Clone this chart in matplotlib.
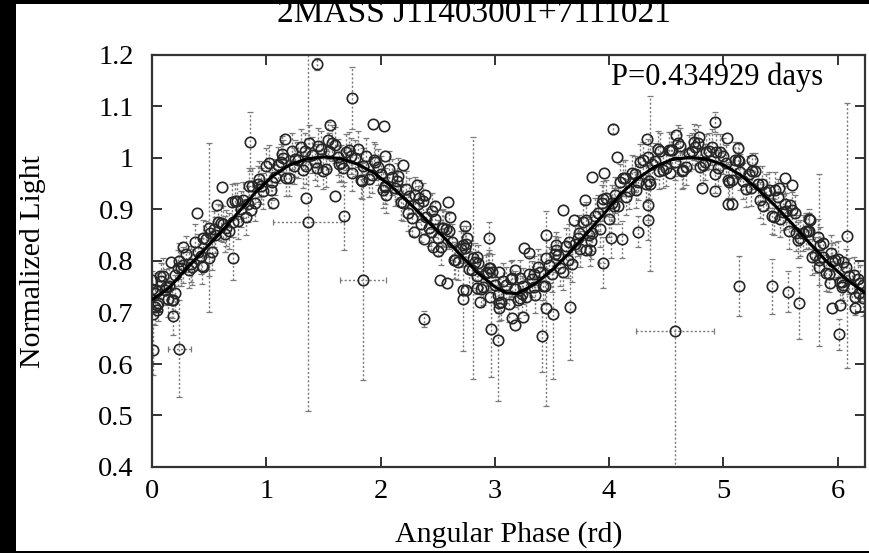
import numpy as np
import matplotlib.pyplot as plt
from matplotlib.patches import Rectangle

# Light curve model
curve_x = [0.00, 0.15, 0.30, 0.45, 0.60, 0.75, 0.90, 1.05, 1.20, 1.35, 1.50, 1.65, 1.80,
           1.95, 2.10, 2.25, 2.40, 2.55, 2.70, 2.85, 3.00, 3.10, 3.20, 3.35, 3.50, 3.65,
           3.80, 3.95, 4.10, 4.25, 4.40, 4.55, 4.70, 4.85, 5.00, 5.15, 5.30, 5.45, 5.60,
           5.75, 5.90, 6.05, 6.20, 6.24]
curve_y = [0.725, 0.748, 0.785, 0.820, 0.855, 0.893, 0.932, 0.964, 0.986, 0.998, 1.002, 0.999, 0.988,
           0.970, 0.944, 0.913, 0.880, 0.847, 0.812, 0.777, 0.750, 0.738, 0.737, 0.755, 0.782, 0.815,
           0.852, 0.890, 0.930, 0.960, 0.983, 0.997, 1.001, 0.998, 0.987, 0.967, 0.940, 0.908, 0.873,
           0.836, 0.800, 0.770, 0.744, 0.738]

# Dense band of measurements
band_a_x = [0.00, 0.05, 0.10, 0.15, 0.20, 0.25, 0.30, 0.35, 0.40, 0.45, 0.50, 0.55, 0.60, 0.65,
            0.70, 0.75, 0.80, 0.85, 0.90, 0.95, 1.00, 1.05, 1.10, 1.15, 1.20, 1.25, 1.30, 1.35,
            1.40, 1.45, 1.50, 1.55, 1.60, 1.65, 1.70, 1.75, 1.80, 1.85, 1.90, 1.95, 2.00, 2.05,
            2.10, 2.15, 2.20, 2.25, 2.30, 2.35, 2.40, 2.45, 2.50, 2.55, 2.60, 2.65, 2.70, 2.75,
            2.80, 2.85, 2.90, 2.95, 3.00, 3.05, 3.10, 3.15, 3.20, 3.25, 3.30, 3.35, 3.40, 3.45,
            3.50, 3.55, 3.60, 3.65, 3.70, 3.75, 3.80, 3.85, 3.90, 3.95, 4.00, 4.05, 4.10, 4.15,
            4.20, 4.25, 4.30, 4.35, 4.40, 4.45, 4.50, 4.55, 4.60, 4.65, 4.70, 4.75, 4.80, 4.85,
            4.90, 4.95, 5.00, 5.05, 5.10, 5.15, 5.20, 5.25, 5.30, 5.35, 5.40, 5.45, 5.50, 5.55,
            5.60, 5.65, 5.70, 5.75, 5.80, 5.85, 5.90, 5.95, 6.00, 6.05, 6.10, 6.15, 6.20]
band_a_y = [0.745, 0.719, 0.771, 0.752, 0.738, 0.787, 0.813, 0.789, 0.818, 0.844, 0.806, 0.850, 0.873, 0.864,
            0.915, 0.878, 0.918, 0.945, 0.913, 0.945, 0.984, 0.954, 0.987, 1.000, 0.962, 0.999, 1.021, 0.984,
            1.005, 1.023, 0.974, 1.014, 1.025, 0.990, 1.012, 0.971, 1.017, 0.985, 0.959, 0.993, 0.969, 0.928,
            0.963, 0.965, 0.912, 0.927, 0.928, 0.871, 0.885, 0.897, 0.844, 0.865, 0.859, 0.801, 0.823, 0.833,
            0.783, 0.797, 0.750, 0.786, 0.754, 0.720, 0.754, 0.767, 0.725, 0.752, 0.774, 0.734, 0.778, 0.805,
            0.774, 0.812, 0.779, 0.837, 0.833, 0.824, 0.880, 0.855, 0.894, 0.921, 0.881, 0.929, 0.954, 0.925,
            0.970, 0.954, 0.997, 0.956, 0.994, 1.014, 0.980, 1.015, 1.029, 0.976, 1.009, 1.021, 0.982, 1.012,
            1.022, 0.980, 1.003, 0.954, 0.996, 0.972, 0.939, 0.974, 0.950, 0.906, 0.937, 0.938, 0.882, 0.897,
            0.899, 0.841, 0.855, 0.859, 0.812, 0.831, 0.776, 0.800, 0.803, 0.754, 0.770, 0.731, 0.757]

band_b_x = [0.025, 0.075, 0.125, 0.175, 0.225, 0.275, 0.325, 0.375, 0.425, 0.475, 0.525, 0.575, 0.625,
            0.675, 0.725, 0.775, 0.825, 0.875, 0.925, 0.975, 1.025, 1.075, 1.125, 1.175, 1.225, 1.275,
            1.325, 1.375, 1.425, 1.475, 1.525, 1.575, 1.625, 1.675, 1.725, 1.775, 1.825, 1.875, 1.925,
            1.975, 2.025, 2.075, 2.125, 2.175, 2.225, 2.275, 2.325, 2.375, 2.425, 2.475, 2.525, 2.575,
            2.625, 2.675, 2.725, 2.775, 2.825, 2.875, 2.925, 2.975, 3.025, 3.075, 3.125, 3.175, 3.225,
            3.275, 3.325, 3.375, 3.425, 3.475, 3.525, 3.575, 3.625, 3.675, 3.725, 3.775, 3.825, 3.875,
            3.925, 3.975, 4.025, 4.075, 4.125, 4.175, 4.225, 4.275, 4.325, 4.375, 4.425, 4.475, 4.525,
            4.575, 4.625, 4.675, 4.725, 4.775, 4.825, 4.875, 4.925, 4.975, 5.025, 5.075, 5.125, 5.175,
            5.225, 5.275, 5.325, 5.375, 5.425, 5.475, 5.525, 5.575, 5.625, 5.675, 5.725, 5.775, 5.825,
            5.875, 5.925, 5.975, 6.025, 6.075, 6.125, 6.175, 6.225]
band_b_y = [0.710, 0.761, 0.750, 0.724, 0.787, 0.792, 0.782, 0.836, 0.810, 0.843, 0.817, 0.876, 0.871,
            0.858, 0.916, 0.901, 0.886, 0.946, 0.949, 0.936, 0.991, 0.963, 0.993, 0.961, 1.014, 0.996,
            0.977, 1.030, 0.992, 1.017, 0.978, 1.029, 1.002, 0.981, 1.015, 1.000, 0.958, 1.003, 0.967,
            0.983, 0.937, 0.978, 0.942, 0.914, 0.940, 0.884, 0.910, 0.916, 0.865, 0.882, 0.827, 0.862,
            0.837, 0.799, 0.832, 0.784, 0.799, 0.745, 0.776, 0.779, 0.734, 0.761, 0.717, 0.745, 0.767,
            0.730, 0.765, 0.789, 0.751, 0.793, 0.813, 0.787, 0.830, 0.794, 0.845, 0.876, 0.850, 0.887,
            0.862, 0.922, 0.913, 0.906, 0.962, 0.935, 0.969, 0.992, 0.949, 0.989, 1.017, 0.976, 1.015,
            0.993, 1.024, 0.982, 1.014, 1.029, 0.987, 1.014, 0.968, 1.011, 0.990, 0.957, 0.997, 0.955,
            0.969, 0.975, 0.918, 0.934, 0.888, 0.925, 0.895, 0.858, 0.894, 0.844, 0.858, 0.807, 0.847,
            0.808, 0.775, 0.801, 0.759, 0.789, 0.747, 0.765, 0.728]

band_c_x = [0.04, 0.14, 0.24, 0.34, 0.44, 0.54, 0.64, 0.74, 0.84, 0.94, 1.04, 1.14, 1.24, 1.34,
            1.44, 1.54, 1.64, 1.74, 1.84, 1.94, 2.04, 2.14, 2.24, 2.34, 2.44, 2.54, 2.64, 2.74,
            2.84, 2.94, 3.04, 3.14, 3.24, 3.34, 3.44, 3.54, 3.64, 3.74, 3.84, 3.94, 4.04, 4.14,
            4.24, 4.34, 4.44, 4.54, 4.64, 4.74, 4.84, 4.94, 5.04, 5.14, 5.24, 5.34, 5.44, 5.54,
            5.64, 5.74, 5.84, 5.94, 6.04, 6.14]
band_c_y = [0.742, 0.726, 0.800, 0.795, 0.790, 0.863, 0.853, 0.916, 0.910, 0.959, 0.938, 1.008, 0.985, 1.013,
            0.980, 1.034, 0.989, 1.004, 0.956, 0.996, 0.946, 0.956, 0.893, 0.922, 0.857, 0.864, 0.801, 0.826,
            0.770, 0.779, 0.718, 0.765, 0.736, 0.775, 0.752, 0.821, 0.802, 0.854, 0.838, 0.913, 0.907, 0.961,
            0.938, 1.002, 0.975, 1.015, 0.974, 1.031, 0.993, 1.012, 0.958, 0.995, 0.941, 0.949, 0.885, 0.911,
            0.855, 0.859, 0.788, 0.815, 0.760, 0.773]
band_err = 0.035

# Extra scattered points around the band
extra_x = [0.00, 0.07, 0.20, 0.17, 0.27, 0.39, 0.57, 0.71, 0.87, 1.06, 0.45, 0.51, 0.04, 0.03, 0.18, 0.04, 0.01, 0.11,
           1.164, 1.557, 1.35, 1.60, 0.61, 1.93, 2.03,
           2.04, 2.20, 2.32, 2.39, 2.48, 2.59, 2.61, 2.74, 2.76, 2.29, 2.38, 2.46, 2.50, 2.84, 2.96, 3.04, 3.18,
           3.26, 3.30, 3.45, 3.60, 3.69, 3.79, 3.85, 3.96, 4.07, 3.54, 3.80,
           2.04, 2.52, 2.75, 2.96, 2.84, 2.87, 3.04, 3.15, 3.18, 3.25, 3.22, 3.34, 2.72, 2.58,
           4.33, 4.59, 4.79, 5.03, 5.13, 5.25, 5.54, 5.60, 4.53, 4.81, 4.93, 5.04, 5.08, 5.49, 5.58, 5.76, 5.87, 6.05,
           5.95, 6.02, 6.15, 6.19, 6.04, 5.93, 6.22]
extra_y = [0.763, 0.770, 0.773, 0.799, 0.828, 0.893, 0.909, 0.876, 0.899, 0.912, 0.789, 0.854, 0.705, 0.737, 0.724, 0.715, 0.698, 0.744,
           1.036, 1.064, 0.922, 0.926, 0.943, 1.066, 1.062,
           1.003, 0.986, 0.948, 0.928, 0.907, 0.915, 0.886, 0.868, 0.844, 0.857, 0.842, 0.828, 0.820, 0.808, 0.786, 0.779, 0.783,
           0.825, 0.815, 0.850, 0.899, 0.880, 0.918, 0.964, 0.970, 1.002, 0.831, 0.821,
           0.944, 0.763, 0.744, 0.731, 0.747, 0.721, 0.708, 0.689, 0.676, 0.692, 0.728, 0.750, 0.744, 0.757,
           1.036, 1.045, 1.040, 1.038, 1.020, 0.997, 0.961, 0.948, 0.970, 0.941, 0.935, 0.911, 0.911, 0.941, 0.909, 0.880, 0.834, 0.799,
           0.708, 0.715, 0.708, 0.737, 0.750, 0.757, 0.753]

# Points with long error bars
out_x = [1.367, 1.44, 1.747, 0.857, 1.849, 1.683, 0.712, 0.50, 0.24, 0.187, 0.01, 2.81, 2.72, 2.95, 2.38, 2.97,
         3.03, 3.41, 3.45, 3.51, 3.66, 3.95, 4.02, 3.83, 4.035, 6.085, 4.58, 5.135, 5.43, 5.57, 5.66, 5.84,
         6.01, 4.11, 4.25, 4.34, 4.34, 4.36, 4.93, 5.75]
out_y = [0.876, 1.183, 1.116, 1.032, 0.764, 0.887, 0.805, 0.865, 0.630, 0.694, 0.628, 0.805, 0.726, 0.845, 0.687, 0.668,
         0.647, 0.654, 0.708, 0.697, 0.711, 0.797, 0.845, 0.821, 1.056, 0.849, 0.665, 0.751, 0.751, 0.740, 0.719, 0.802,
         0.658, 0.842, 0.857, 0.880, 0.909, 0.950, 1.070, 0.881]
out_xerr = [0.31, 0, 0, 0, 0.20, 0, 0, 0, 0.10, 0, 0, 0, 0, 0, 0, 0,
            0, 0, 0, 0, 0, 0.04, 0, 0, 0, 0, 0.34, 0, 0, 0, 0, 0,
            0, 0, 0, 0, 0, 0, 0, 0]
out_yerr = [0.367, 0.012, 0.06, 0.058, 0.195, 0.066, 0.042, 0.165, 0.094, 0.038, 0.05, 0.235, 0.10, 0.03, 0.015, 0.093,
            0.118, 0.07, 0.19, 0.126, 0.103, 0.05, 0.04, 0.03, 0.01, 0.257, 0.30, 0.058, 0.053, 0.04, 0.07, 0.167,
            0.03, 0.036, 0.03, 0.04, 0.03, 0.17, 0.02, 0.02]

ytick_vals = [0.4, 0.5, 0.6, 0.7, 0.8, 0.9, 1.0, 1.1, 1.2]
ytick_labels = ['0.4', '0.5', '0.6', '0.7', '0.8', '0.9', '1', '1.1', '1.2']
xtick_vals = [0, 1, 2, 3, 4, 5, 6]

plt.rcParams['font.family'] = ['Liberation Serif', 'DejaVu Serif']

fig = plt.figure(figsize=(8.69, 5.53), dpi=100, facecolor='black')
fig.patches.append(Rectangle((16 / 869, 2 / 553), 853 / 869, 547 / 553, transform=fig.transFigure,
                             facecolor='white', edgecolor='none', zorder=-1))
ax = fig.add_axes([152 / 869, 86 / 553, 713 / 869, 412 / 553])


def dotted_err(x, y, xerr=None, yerr=None):
    eb = ax.errorbar(x, y, xerr=xerr, yerr=yerr, fmt='none', ecolor='#7a7a7a', elinewidth=1.0,
                     capsize=2.5, capthick=0.9, zorder=1)
    for lc in eb[2]:
        lc.set_linestyle((0, (1.5, 1.5)))


mk = dict(mfc='none', mec='#262626', ms=7.5, mew=1.2, zorder=2)

# band
for bx, by in [(band_a_x, band_a_y), (band_b_x, band_b_y), (band_c_x, band_c_y)]:
    dotted_err(bx, by, yerr=band_err)
for bx, by in [(band_a_x, band_a_y), (band_b_x, band_b_y), (band_c_x, band_c_y)]:
    ax.plot(bx, by, 'o', **mk)
ax.plot(extra_x, extra_y, 'o', **mk)

# outliers with long bars
ox = np.array(out_x)
oy = np.array(out_y)
oxe = np.array(out_xerr)
dotted_err(ox, oy, yerr=out_yerr)
has_x = oxe > 0
dotted_err(ox[has_x], oy[has_x], xerr=oxe[has_x])
ax.plot(out_x, out_y, 'o', **mk)

# model
ax.plot(curve_x, curve_y, color='black', lw=2.3, zorder=3)

ax.set_xlim(0, 6.24)
ax.set_ylim(0.4, 1.2)
ax.set_xticks(xtick_vals)
ax.set_yticks(ytick_vals)
ax.set_yticklabels(ytick_labels)
ax.tick_params(direction='in', top=True, right=True, length=7, width=1.4, labelsize=20.5,
               color='#333333')
ax.tick_params(axis='x', pad=9)
ax.tick_params(axis='y', pad=13)
for s in ax.spines.values():
    s.set_linewidth(1.6)
    s.set_color('#333333')

ax.set_xlabel('Angular Phase (rd)', fontsize=21.5)
ax.set_ylabel('Normalized Light', fontsize=21.5)
ax.xaxis.set_label_coords(0.5, -0.132)
ax.yaxis.set_label_coords(-0.149, 0.5)

ax.text(0.6438, 0.927, 'P=0.434929 days', transform=ax.transAxes, fontsize=22,
        ha='left', va='baseline')
fig.text(474 / 869, (553 - 22) / 553, '2MASS J11403001+7111021', fontsize=24,
         ha='center', va='baseline')

fig.savefig('out.png', dpi=100, facecolor=fig.get_facecolor())
